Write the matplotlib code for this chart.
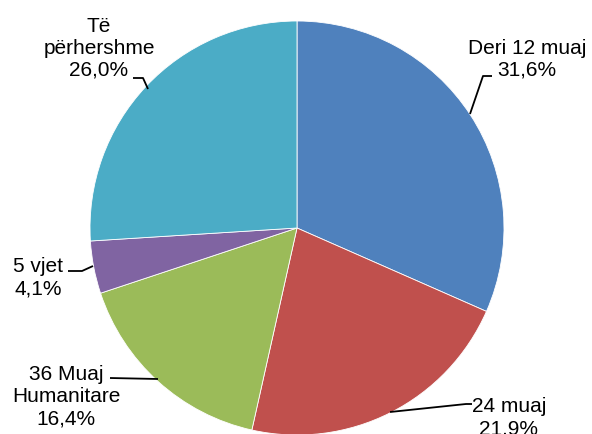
import matplotlib
matplotlib.use("Agg")
import matplotlib.pyplot as plt

# Data
labels = ["Deri 12 muaj", "24 muaj", "36 Muaj\nHumanitare", "5 vjet", "Të\npërhershme"]
values = [31.6, 21.9, 16.4, 4.1, 26.0]
pct_text = ["31,6%", "21,9%", "16,4%", "4,1%", "26,0%"]
colors = ["#4F81BD", "#C0504D", "#9BBB59", "#8064A2", "#4BACC6"]

W, H = 592, 435
cx, cy, R = 297, 229, 207  # pie centre / radius in pixels (from top)

def px(x, y):
    # pixel (from top-left) -> data units
    return (x - cx) / R, (cy - y) / R

plt.rcParams['font.family'] = ['Liberation Sans', 'DejaVu Sans']

fig = plt.figure(figsize=(W / 100, H / 100), dpi=100)
ax = fig.add_axes([0, 0, 1, 1])
ax.pie(values, colors=colors, startangle=90, counterclock=False, radius=1,
       wedgeprops=dict(edgecolor="white", linewidth=0.6))
ax.set_xlim(-cx / R, (W - cx) / R)
ax.set_ylim(-(H - cy) / R, cy / R)
ax.set_aspect('auto')
ax.axis('off')

# label text positions (pixel centres) and leader lines
text_pos = [(527, 59), (509, 418), (66, 397), (38, 278), (99, 48)]
leaders = [
    [(492, 77), (483, 77), (470, 115)],
    [(472, 405), (466, 405), (390, 413)],
    [(110, 379), (158, 380)],
    [(68, 272), (82, 272), (93, 267)],
    [(133, 79), (143, 79), (148, 90)],
]

for lab, pct, pos, pts in zip(labels, pct_text, text_pos, leaders):
    x, y = px(*pos)
    ax.text(x, y, lab + "\n" + pct, ha="center", va="center", fontsize=15,
            linespacing=1.2, color="black")
    xs, ys = zip(*[px(a, b) for a, b in pts])
    ax.plot(xs, ys, color="black", lw=1.3, solid_capstyle="butt")

fig.savefig("out.png", dpi=100)
